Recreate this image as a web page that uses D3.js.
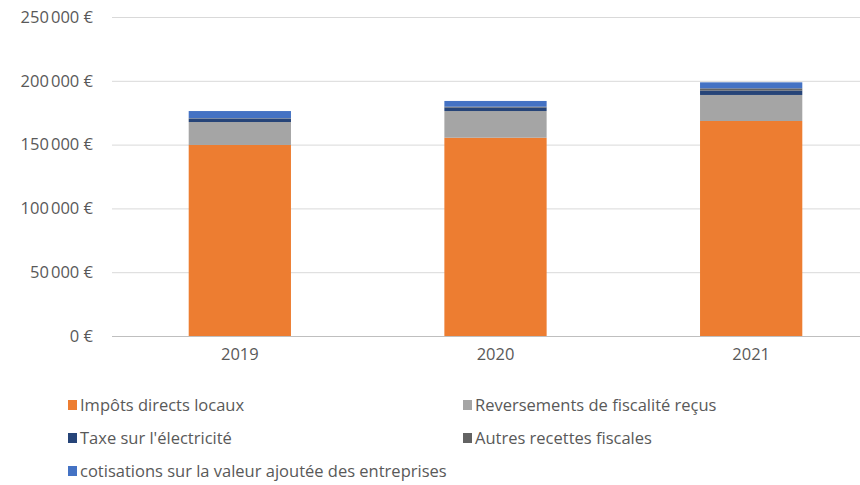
<!DOCTYPE html>
<html><head><meta charset="utf-8">
<script src="https://cdn.jsdelivr.net/npm/d3@7"></script>
<style>
body{margin:0;background:#fff;}
text{font-family:"Open Sans",sans-serif;fill:#595959;}
</style></head><body>
<svg id="c" width="860" height="485"></svg>
<script>
const categories = ["2019","2020","2021"];
const seriesNames = ["Impôts directs locaux","Reversements de fiscalité reçus","Taxe sur l'électricité","Autres recettes fiscales","cotisations sur la valeur ajoutée des entreprises"];
const impots = [149700, 155400, 168500];
const reversements = [18000, 20900, 20400];
const taxeElec = [2400, 2800, 3500];
const autres = [500, 600, 1700];
const cvae = [5700, 4500, 4700];
const colors = ["#ED7D31","#A5A5A5","#264478","#636363","#4472C4"];
const yTicks = [0,50000,100000,150000,200000,250000];

const svg = d3.select("#c");
const rows = categories.map((c,i)=>({cat:c, s0:impots[i], s1:reversements[i], s2:taxeElec[i], s3:autres[i], s4:cvae[i]}));
const keys = ["s0","s1","s2","s3","s4"];
const stack = d3.stack().keys(keys)(rows);

const x = d3.scaleBand().domain(categories).range([112, 879]).padding(0);
const y = d3.scaleLinear().domain([0,250000]).range([336,17]);

const fmt = v => d3.format(",")(v).replace(/,/g,"\u202F") + "\u00A0€";

svg.append("g").selectAll("line").data(yTicks).join("line")
  .attr("x1",112).attr("x2",879).attr("y1",d=>y(d)+0.5).attr("y2",d=>y(d)+0.5)
  .attr("stroke",d=>d===0?"#BFBFBF":"#D9D9D9").attr("stroke-width",1);

const yAxis = d3.axisLeft(y).tickValues(yTicks).tickFormat(fmt).tickSize(0).tickPadding(0);
const ga = svg.append("g").attr("transform","translate(93,0)").call(yAxis);
ga.select(".domain").remove();
ga.selectAll("text").style("font-size","16.5px").style("font-family","'Open Sans',sans-serif").attr("fill","#595959");

const bw = x.bandwidth()*0.4;
svg.append("g").selectAll("g").data(stack).join("g").attr("fill",(d,i)=>colors[i])
  .selectAll("rect").data(d=>d).join("rect")
  .attr("x",d=>x(d.data.cat)+(x.bandwidth()-bw)/2)
  .attr("width",bw)
  .attr("y",d=>y(d[1]))
  .attr("height",d=>y(d[0])-y(d[1]));

const xAxis = d3.axisBottom(x).tickSize(0).tickPadding(0);
const gx = svg.append("g").attr("transform","translate(0,348)").call(xAxis);
gx.select(".domain").remove();
gx.selectAll("text").style("font-size","16.5px").style("font-family","'Open Sans',sans-serif").attr("fill","#595959");

const legPos = [[68,405],[463,405],[68,438],[463,438],[68,471]];
const lg = svg.append("g").selectAll("g").data(seriesNames).join("g")
  .attr("transform",(d,i)=>`translate(${legPos[i][0]},${legPos[i][1]})`);
lg.append("rect").attr("x",0).attr("y",-5).attr("width",9).attr("height",10).attr("fill",(d,i)=>colors[i]);
lg.append("text").attr("x",12).attr("y",6).style("font-size","16.5px").text(d=>d);
</script>
</body></html>
